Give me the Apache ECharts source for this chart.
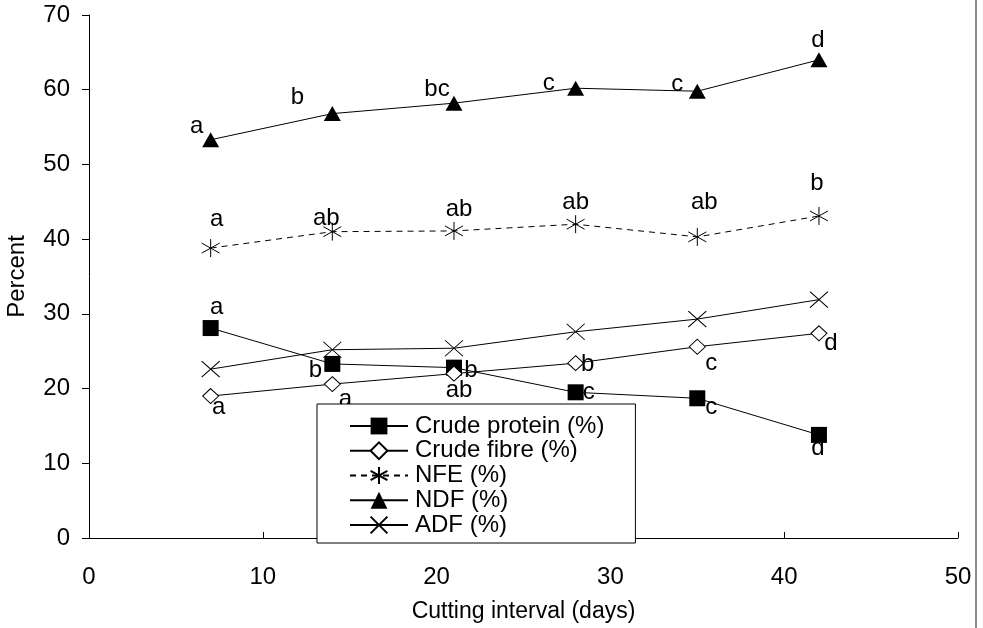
<!DOCTYPE html>
<html>
<head>
<meta charset="utf-8">
<script src="https://cdn.jsdelivr.net/npm/echarts@6/dist/echarts.min.js"></script>
<style>
html,body{margin:0;padding:0;background:#fff;}
#chart{width:983px;height:628px;}
</style>
</head>
<body>
<div id="chart"></div>
<script>
// ---- data ----
var days = [7, 14, 21, 28, 35, 42];
var crudeProtein = [28.1, 23.3, 22.8, 19.5, 18.7, 13.8];
var crudeFibre   = [19.0, 20.6, 22.0, 23.4, 25.6, 27.4];
var nfe          = [38.8, 41.0, 41.1, 42.0, 40.3, 43.1];
var ndf          = [53.3, 56.8, 58.2, 60.2, 59.8, 64.0];
var adf          = [22.6, 25.2, 25.4, 27.6, 29.3, 31.9];

var cpLetters  = ['a', 'b', 'b', 'c', 'c', 'd'];
var cfLetters  = ['a', 'a', 'ab', 'b', 'c', 'd'];
var nfeLetters = ['a', 'ab', 'ab', 'ab', 'ab', 'b'];
var ndfLetters = ['a', 'b', 'bc', 'c', 'c', 'd'];

var seriesNames = ['Crude protein (%)', 'Crude fibre (%)', 'NFE (%)', 'NDF (%)', 'ADF (%)'];
var xTicks = [0, 10, 20, 30, 40, 50];
var yTicks = [0, 10, 20, 30, 40, 50, 60, 70];

// ---- label placement (pixel offsets from point) ----
var cpOff  = [[6,-21],[-17,6],[17,3],[13,0],[14,9],[-1,13]];
var cfOff  = [[8,11],[13,15],[5,17],[12,1],[14,17],[12,10]];
var nfeOff = [[6,-29],[-6,-13],[5,-22],[0,-22],[7,-35],[-2,-33]];
var ndfOff = [[-14,-13],[-35,-16],[-17,-14],[-27,-5],[-20,-7],[-1,-19]];

var FONT = 'Liberation Sans, Arial, sans-serif';
var FS = 24;

function build(vals, letters, offs) {
  return days.map(function (d, i) {
    var item = { value: [d, vals[i]] };
    if (letters) {
      item.label = {
        show: true, formatter: letters[i], position: 'inside',
        offset: offs[i], color: '#000', fontFamily: FONT, fontSize: FS
      };
    }
    return item;
  });
}

var starPath = 'path://M9,0L9,18M1,4L17,14M1,14L17,4';
var xPath = 'path://M0,0L18,16M0,16L18,0';

var chart = echarts.init(document.getElementById('chart'), null, { renderer: 'canvas' });
chart.setOption({
  animation: false,
  backgroundColor: '#fff',
  textStyle: { fontFamily: FONT },
  grid: { left: 89, right: 25, top: 15, bottom: 90, containLabel: false, outerBoundsMode: 'none' },
  xAxis: {
    type: 'value', min: 0, max: 50, interval: 10,
    name: 'Cutting interval (days)', nameLocation: 'middle', nameGap: 62,
    nameTextStyle: { color: '#000', fontSize: 23, fontFamily: FONT },
    axisLine: { lineStyle: { color: '#000', width: 1 } },
    axisTick: { inside: true, length: 6, lineStyle: { color: '#000' } },
    axisLabel: { color: '#000', fontSize: FS, fontFamily: FONT, margin: 27,
      formatter: function (v) { return xTicks.indexOf(v) >= 0 ? String(v) : ''; } },
    splitLine: { show: false }
  },
  yAxis: {
    type: 'value', min: 0, max: 70, interval: 10,
    name: 'Percent', nameLocation: 'middle', nameGap: 60,
    nameTextStyle: { color: '#000', fontSize: 24, fontFamily: FONT },
    axisLine: { show: true, lineStyle: { color: '#000', width: 1 } },
    axisTick: { show: true, inside: false, length: 7, lineStyle: { color: '#000' } },
    axisLabel: { color: '#000', fontSize: FS, fontFamily: FONT, margin: 19,
      formatter: function (v) { return yTicks.indexOf(v) >= 0 ? String(v) : ''; } },
    splitLine: { show: false }
  },
  legend: {
    orient: 'vertical', left: 317, top: 404,
    data: seriesNames,
    backgroundColor: '#fff', borderColor: '#000', borderWidth: 1,
    padding: [10, 31, 6, 32],
    itemWidth: 58, itemHeight: 21, itemGap: 0.75,
    textStyle: { color: '#000', fontSize: FS, fontFamily: FONT, lineHeight: 24, padding: [0, 0, 0, 2] },
    selectedMode: false
  },
  series: [
    {
      name: seriesNames[0], type: 'line', data: build(crudeProtein, cpLetters, cpOff),
      symbol: 'rect', symbolSize: 16,
      lineStyle: { color: '#000', width: 1 },
      itemStyle: { color: '#000', borderColor: '#000', borderWidth: 0 }
    },
    {
      name: seriesNames[1], type: 'line', data: build(crudeFibre, cfLetters, cfOff),
      symbol: 'diamond', symbolSize: [16, 15],
      lineStyle: { color: '#000', width: 1 },
      itemStyle: { color: '#fff', borderColor: '#000', borderWidth: 1 }
    },
    {
      name: seriesNames[2], type: 'line', data: build(nfe, nfeLetters, nfeOff),
      symbol: starPath, symbolSize: 18,
      lineStyle: { color: '#000', width: 1, type: [6, 5] },
      itemStyle: { color: 'rgba(0,0,0,0)', borderColor: '#000', borderWidth: 1 }
    },
    {
      name: seriesNames[3], type: 'line', data: build(ndf, ndfLetters, ndfOff),
      symbol: 'triangle', symbolSize: [17, 15],
      lineStyle: { color: '#000', width: 1 },
      itemStyle: { color: '#000', borderColor: '#000', borderWidth: 0 }
    },
    {
      name: seriesNames[4], type: 'line', data: build(adf, null, null),
      symbol: xPath, symbolSize: [18, 16],
      lineStyle: { color: '#000', width: 1 },
      itemStyle: { color: 'rgba(0,0,0,0)', borderColor: '#000', borderWidth: 1 }
    }
  ],
  graphic: [
    { type: 'line', shape: { x1: 976, y1: 0, x2: 976, y2: 628 },
      style: { stroke: '#8c8c8c', lineWidth: 2 }, silent: true }
  ]
});
</script>
</body>
</html>
